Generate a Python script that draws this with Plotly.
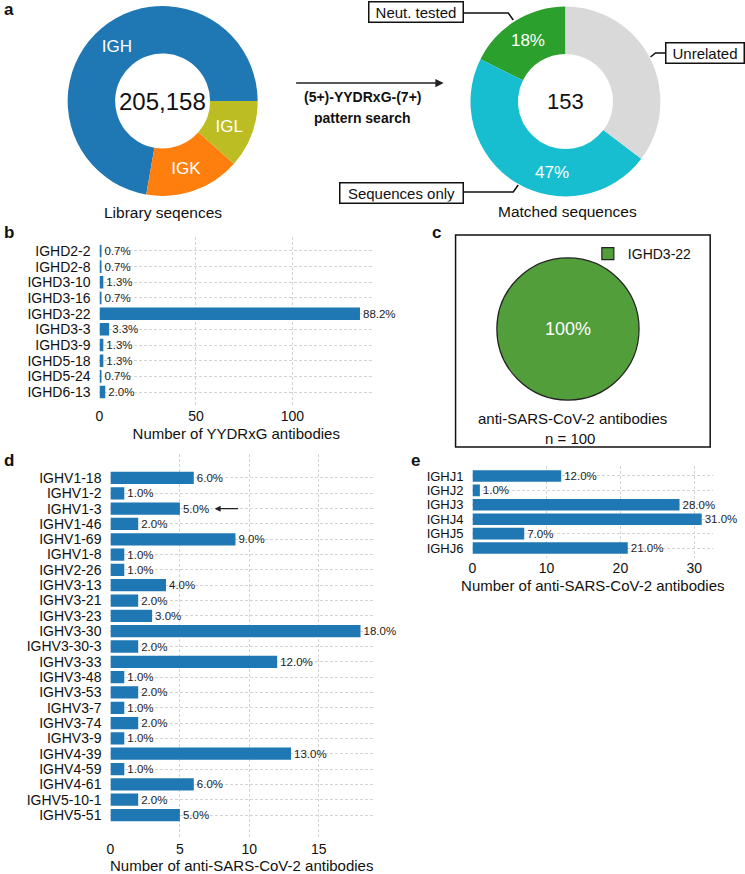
import plotly.graph_objects as go

W, H = 745, 874
FONT = "Liberation Sans, Arial, Helvetica, sans-serif"

# ---------------- data ----------------
lib_labels = ["IGH", "IGK", "IGL"]
lib_values = [148200, 33400, 23558]
lib_total_text = "205,158"

match_labels = ["Neut. tested", "Sequences only", "Unrelated"]
match_values = [27, 72, 54]
match_total_text = "153"

d_gene_labels = ["IGHD2-2", "IGHD2-8", "IGHD3-10", "IGHD3-16", "IGHD3-22",
                 "IGHD3-3", "IGHD3-9", "IGHD5-18", "IGHD5-24", "IGHD6-13"]
d_gene_counts = [1, 1, 2, 1, 135, 5, 2, 2, 1, 3]

c_labels = ["IGHD3-22"]
c_values = [100]

v_gene_labels = ["IGHV1-18", "IGHV1-2", "IGHV1-3", "IGHV1-46", "IGHV1-69", "IGHV1-8",
                 "IGHV2-26", "IGHV3-13", "IGHV3-21", "IGHV3-23", "IGHV3-30", "IGHV3-30-3",
                 "IGHV3-33", "IGHV3-48", "IGHV3-53", "IGHV3-7", "IGHV3-74", "IGHV3-9",
                 "IGHV4-39", "IGHV4-59", "IGHV4-61", "IGHV5-10-1", "IGHV5-51"]
v_gene_counts = [6, 1, 5, 2, 9, 1, 1, 4, 2, 3, 18, 2, 12, 1, 2, 1, 2, 1, 13, 1, 6, 2, 5]

j_gene_labels = ["IGHJ1", "IGHJ2", "IGHJ3", "IGHJ4", "IGHJ5", "IGHJ6"]
j_gene_counts = [12, 1, 28, 31, 7, 21]

x_ticks_b = [0, 50, 100]
x_ticks_d = [0, 5, 10, 15]
x_ticks_e = [0, 10, 20, 30]

BLUE = "#1f77b4"


def px_x(x):
    return x / W


def px_y(y):
    return 1 - y / H


def pct_text(vals):
    t = sum(vals)
    return [f"{v / t * 100:.1f}%" for v in vals]


def first_slice_deg(vals):
    return 360.0 * vals[0] / sum(vals)


fig = go.Figure()

# ---------------- panel a: donuts ----------------
# first slice starts at 3 o'clock (left) / 12 o'clock (right) and runs counterclockwise
fig.add_trace(go.Pie(
    labels=lib_labels, values=lib_values, hole=0.5, sort=False,
    rotation=90 - first_slice_deg(lib_values), direction="counterclockwise",
    marker=dict(colors=["#1f77b4", "#ff7f0e", "#bcbd22"]),
    textinfo="label", textposition="inside", insidetextorientation="horizontal",
    textfont=dict(size=17, color="white", family=FONT),
    domain=dict(x=[px_x(64), px_x(255)], y=[px_y(196.5), px_y(5.5)]),
    showlegend=False, hoverinfo="label+value",
))
fig.add_trace(go.Pie(
    labels=match_labels, values=match_values, hole=0.5, sort=False,
    rotation=-first_slice_deg(match_values), direction="counterclockwise",
    marker=dict(colors=["#2ca02c", "#17becf", "#d9d9d9"]),
    texttemplate=["%{percent:.0%}", "", ""],
    textposition="inside", insidetextorientation="horizontal",
    textfont=dict(size=17, color="white", family=FONT),
    domain=dict(x=[px_x(469), px_x(660)], y=[px_y(197), px_y(6)]),
    showlegend=False, hoverinfo="label+value",
))

# ---------------- panel c: pie ----------------
fig.add_trace(go.Pie(
    labels=c_labels, values=c_values, sort=False,
    marker=dict(colors=["#529e3b"], line=dict(color="#222", width=1.2)),
    texttemplate="%{percent:.0%}", textposition="inside",
    textfont=dict(size=18, color="white", family=FONT),
    domain=dict(x=[px_x(495.5), px_x(638.5)], y=[px_y(400.5), px_y(257.5)]),
    showlegend=True, hoverinfo="label+value",
))

# ---------------- bar charts ----------------
bar_common = dict(orientation="h", marker=dict(color=BLUE, line=dict(width=0)),
                  width=0.8, textposition="outside", cliponaxis=False,
                  constraintext="none",
                  textfont=dict(size=11.5, color="#222", family=FONT))

fig.add_trace(go.Bar(x=d_gene_counts, y=d_gene_labels, text=pct_text(d_gene_counts),
                     xaxis="x", yaxis="y", showlegend=False, **bar_common))
fig.add_trace(go.Bar(x=v_gene_counts, y=v_gene_labels, text=pct_text(v_gene_counts),
                     xaxis="x2", yaxis="y2", showlegend=False, **bar_common))
fig.add_trace(go.Bar(x=j_gene_counts, y=j_gene_labels, text=pct_text(j_gene_counts),
                     xaxis="x3", yaxis="y3", showlegend=False, **bar_common))

grid = dict(showgrid=True, gridcolor="#d4d4d4", griddash="3px,2px", gridwidth=0.8,
            zeroline=False, showline=False, ticks="")


def xax(domain, rng, ticks, anchor, title):
    return dict(domain=[px_x(domain[0]), px_x(domain[1])], range=rng, tickvals=ticks,
                anchor=anchor, tickfont=dict(size=14, color="#111", family=FONT),
                title=dict(text=title, font=dict(size=15, color="#111", family=FONT),
                           standoff=5), **grid)


def yax(domain, labels, anchor, size=14):
    n = len(labels)
    pad = 0.4 + 0.05 * (n - 1 + 0.8)
    return dict(domain=[px_y(domain[1]), px_y(domain[0])], type="category",
                range=[n - 1 + pad, -pad], anchor=anchor,
                tickmode="array", tickvals=labels, ticktext=labels,
                tickfont=dict(size=size, color="#111", family=FONT),
                ticklabelstandoff=8, **grid)


b_max = max(d_gene_counts) * 1.05
d_max = max(v_gene_counts) * 1.05
e_max = max(j_gene_counts) * 1.05

fig.update_layout(
    xaxis=xax((96, 371), [0, b_max], x_ticks_b, "y", "Number of YYDRxG antibodies"),
    yaxis=yax((237, 406), d_gene_labels, "x"),
    xaxis2=xax((107, 371), [0, d_max], x_ticks_d, "y2", "Number of anti-SARS-CoV-2 antibodies"),
    yaxis2=yax((454.4, 838.6), v_gene_labels, "x2"),
    xaxis3=xax((471, 713), [0, e_max], x_ticks_e, "y3", "Number of anti-SARS-CoV-2 antibodies"),
    yaxis3=yax((466, 558), j_gene_labels, "x3", size=13),
)

# ---------------- annotations / shapes ----------------
ann = []


def text(x, y, s, size=15, bold=False, color="#111", xanchor="center", **kw):
    ann.append(dict(x=px_x(x), y=px_y(y), xref="paper", yref="paper", text=f"<b>{s}</b>" if bold else s,
                    showarrow=False, xanchor=xanchor, yanchor="middle",
                    font=dict(size=size, color=color, family=FONT), **kw))


# panel letters
text(5, 9, "a", 17, True)
text(5, 233, "b", 17, True)
text(435, 233, "c", 17, True)
text(5, 460, "d", 17, True)
text(414, 460, "e", 17, True)

# donut centres & captions
text(159.5, 101, lib_total_text, 24)
text(564.5, 101.5, match_total_text, 22)
text(159.5, 212, "Library seqences", 15.5)
text(567, 211, "Matched sequences", 15.5)

# percentage label of the "Sequences only" slice (placed as in the original)
seq_pct = f"{round(match_values[1] / sum(match_values) * 100)}%"
text(551, 173, seq_pct, 17, color="white")

# middle arrow and text
ann.append(dict(x=px_x(442), y=px_y(83), xref="paper", yref="paper", ax=-149, ay=0,
                showarrow=True, arrowhead=2, arrowsize=1.1, arrowwidth=1.5, arrowcolor="#222", text=""))
text(360, 97, "(5+)-YYDRxG-(7+)", 14, True)
text(360, 118, "pattern search", 14, True)


# callout boxes (x0, x1, y0, y1 in px)
def callout(x0, x1, y0, y1, s):
    text((x0 + x1) / 2, (y0 + y1) / 2, s, 15, bordercolor="#111", borderwidth=1.5,
         bgcolor="white", borderpad=1, width=x1 - x0 - 4, height=y1 - y0 - 4, align="center")


callout(367, 462, 2, 23, match_labels[0])
callout(665, 744, 42.5, 63.5, match_labels[2])
callout(338, 462, 182, 203, match_labels[1])

# panel c captions
text(572, 419, "anti-SARS-CoV-2 antibodies", 15)
text(569, 438, "n = 100", 15)

# arrow in panel d
ann.append(dict(x=7.5, y="IGHV1-3", xref="x2", yref="y2", ax=9.3, ay=0, axref="x2", ayref="pixel",
                showarrow=True, arrowhead=2, arrowsize=1, arrowwidth=1.2, arrowcolor="#222", text=""))

shapes = []


def path(pts, width=1.5):
    d = "M " + " L ".join(f"{px_x(x)},{px_y(y)}" for x, y in pts)
    shapes.append(dict(type="path", path=d, xref="paper", yref="paper",
                       line=dict(color="#111", width=width)))


path([(462, 13), (507, 13), (512, 20)])
path([(665, 53), (655, 53), (650, 57)])
path([(462, 192), (512, 192), (517, 185)])

shapes.append(dict(type="rect", xref="paper", yref="paper",
                   x0=px_x(454), x1=px_x(710), y0=px_y(447), y1=px_y(235),
                   line=dict(color="#111", width=1.5)))

fig.update_layout(
    width=W, height=H, margin=dict(l=0, r=0, t=0, b=0),
    paper_bgcolor="white", plot_bgcolor="white",
    font=dict(family=FONT, color="#111"),
    annotations=ann, shapes=shapes,
    legend=dict(x=px_x(587), y=px_y(254), xanchor="left", yanchor="middle",
                font=dict(size=14, family=FONT, color="#111"), bgcolor="rgba(0,0,0,0)"),
    bargap=0.2,
)

fig.write_html("out.html", config={"displayModeBar": False},
               post_script="document.body.style.margin='0';document.body.style.overflow='hidden';")
